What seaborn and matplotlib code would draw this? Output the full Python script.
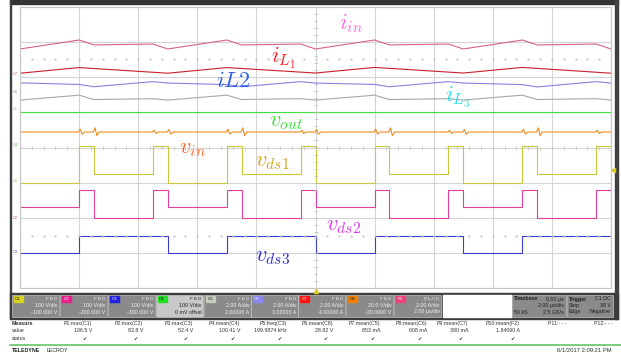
import matplotlib
matplotlib.use("Agg")
import matplotlib.pyplot as plt
import seaborn as sns
import pandas as pd
import numpy as np
from matplotlib.patches import Rectangle

# ---------------- data (time in microseconds, physical units) ----------------
t_tri = [-10, -8, -7.5, -5.5, -5, -3, -2.5, -0.5, 0, 2, 2.5, 4.5, 5, 7, 7.5, 9.5, 10]
i_in = [1.61, 2.12, 1.84, 1.89, 1.61, 2.12, 1.84, 1.89, 1.61, 2.12, 1.84, 1.89, 1.61, 2.12, 1.84, 1.89, 1.61]
i_L2 = [0.68, 0.59, 0.46, 0.75, 0.67, 0.58, 0.46, 0.75, 0.67, 0.59, 0.46, 0.75, 0.67, 0.58, 0.45, 0.75, 0.67]
i_L3 = [0.70, 0.98, 0.73, 0.78, 0.70, 0.98, 0.73, 0.78, 0.70, 0.98, 0.73, 0.78, 0.70, 0.98, 0.73, 0.78, 0.70]
t_il1 = [-10, -8, -5, -3, 0, 2, 5, 7, 10]
i_L1 = [0.23, 0.55, 0.23, 0.55, 0.24, 0.56, 0.24, 0.56, 0.23]
t_out = [-10, 10]
v_out = [100.4, 100.4]
vin_base = 28.8
t_spk = [-8, -7.5, -5.5, -5, -3, -2.5, -0.5, 0, 2, 2.5, 4.5, 5, 7, 7.5, 9.5]
spk_up = [1.6, 2.4, 1.0, 1.4, 1.6, 2.4, 1.0, 1.4, 1.6, 2.4, 1.0, 1.4, 1.6, 2.4, 1.0]
spk_dn = [1.2, 2.0, 0.8, 1.2, 1.2, 2.0, 0.8, 1.2, 1.2, 2.0, 0.8, 1.2, 1.2, 2.0, 0.8]
t_edge = [-10, -8, -7.5, -5.5, -5, -3, -2.5, -0.5, 0, 2, 2.5, 4.5, 5, 7, 7.5, 9.5, 10]
v_ds1 = [0, 104, 23.6, 105, 0, 104, 23.6, 105, 0, 104, 23.6, 105, 0, 104, 23.6, 105, 105]
v_ds2 = [30, 79, -1.5, 79, 30, 79, -1.5, 79, 30, 79, -1.5, 79, 30, 79, -1.5, 79, 79]
t_ds3 = [-10, -8, -5, -3, 0, 2, 5, 7, 10]
v_ds3 = [0, 47, 0, 47, 0, 47, 0, 47, 47]

# channel settings (from the channel boxes)
ch_names = ["C1", "C2", "C3", "C4", "C5", "C6", "C7", "C8", "F2"]
ch_scale = [100, 100, 100, 100, 2, 2, 2, 20, 2]
ch_offset = [-100, -200, -300, 0, 2, 3, 4, -20, 4]
ch_line1 = ["100 V/div", "100 V/div", "100 V/div", "100 V/div", "2.00 A/div", "2.00 A/div",
            "2.00 A/div", "20.0 V/div", "2.00 A/div"]
ch_line2 = ["-100.000 V", "-200.000 V", "-300.000 V", "0 mV offset", "2.00000 A", "3.00000 A",
            "4.00000 A", "-20.0000 V", "2.00 µs/div"]
ch_tag = ["#d6d21e", "#e8208c", "#2222e0", "#22e022", "#c4ccbc", "#8a86f0", "#ff1414", "#f08000", "#f0407c"]

meas_head = ["P1:max(C1)", "P2:max(C2)", "P3:max(C3)", "P4:mean(C4)", "P5:freq(C3)", "P6:mean(C8)",
             "P7:mean(C5)", "P8:mean(C6)", "P9:mean(C7)", "P10:mean(F2)", "P11:- - -", "P12:- - -"]
meas_val = ["106.5 V", "82.8 V", "52.4 V", "100.41 V", "199.9874 kHz", "28.82 V",
            "853 mA", "608 mA", "380 mA", "1.84060 A", "", ""]

# ---------------- style ----------------
sns.set_style("white")
plt.rcParams["font.family"] = ["Liberation Sans", "DejaVu Sans"]
plt.rcParams["mathtext.fontset"] = "cm"

W, H = 621, 355
fig = plt.figure(figsize=(W / 100, H / 100), dpi=100)

bg = fig.add_axes([0, 0, 1, 1])
bg.set_xlim(0, W)
bg.set_ylim(H, 0)
bg.axis("off")
bg.set_zorder(0)

ax = fig.add_axes([20 / W, (H - 288) / H, 591 / W, 281 / H])
ax.set_zorder(1)
ax.set_facecolor("white")

def div(vals, ch):
    k = ch_names.index(ch)
    return [(v + ch_offset[k]) / ch_scale[k] for v in vals]

# assemble vin with switching spikes
t_vin, v_vin = [-10], [vin_base]
for te, u, d in zip(t_spk, spk_up, spk_dn):
    t_vin += [te - 0.02, te + 0.04, te + 0.1, te + 0.18]
    v_vin += [vin_base, vin_base + u, vin_base - d, vin_base]
t_vin.append(10)
v_vin.append(vin_base)

traces = [
    (t_tri, i_in, "F2", "#d8608c", None),
    (t_il1, i_L1, "C7", "#c8202c", None),
    (t_tri, i_L2, "C6", "#8c7fe0", None),
    (t_tri, i_L3, "C5", "#a6a6b0", None),
    (t_out, v_out, "C4", "#3ee03e", None),
    (t_vin, v_vin, "C8", "#f08a1a", None),
    (t_edge, v_ds1, "C1", "#c8c83a", "steps-post"),
    (t_edge, v_ds2, "C2", "#e0409c", "steps-post"),
    (t_ds3, v_ds3, "C3", "#3c3cd0", "steps-post"),
]
for t, v, ch, col, ds in traces:
    df = pd.DataFrame({"t": t, "div": div(v, ch)})
    kw = {"drawstyle": ds} if ds else {}
    sns.lineplot(data=df, x="t", y="div", ax=ax, color=col, linewidth=0.8,
                 estimator=None, sort=False, legend=False, **kw)

ax.set_xlim(-10, 10)
ax.set_ylim(-4, 4)
ax.set_xticks(range(-10, 11, 2))
ax.set_yticks(range(-4, 5))
ax.grid(True, color="#d4d4d4", linewidth=0.8)
ax.tick_params(length=0, labelbottom=False, labelleft=False)
ax.set_xlabel("")
ax.set_ylabel("")
for s in ax.spines.values():
    s.set_color("#c4c4c4")
    s.set_linewidth(0.8)

# graticule minor marks
mx = np.arange(-10, 10.01, 0.4)
ax.plot(mx, np.zeros_like(mx), ls="none", marker="|", ms=2.5, color="#c0c0c0", mew=0.5)
my = np.arange(-4, 4.01, 0.2)
ax.plot(np.zeros_like(my), my, ls="none", marker="_", ms=2.5, color="#c0c0c0", mew=0.5)
for yy in (2.52, -2.52):
    ax.plot(mx, np.full_like(mx, yy), ls="none", marker=".", ms=1.1, color="#c4c4c4")

# labels
lab = [
    (1.20, 3.54, r"$i_{in}$", "#ff66e0"),
    (-1.07, 2.55, r"$i_{L_1}$", "#ff1e1e"),
    (-2.79, 1.89, r"$iL2$", "#2f62e6"),
    (4.82, 1.44, r"$i_{L_3}$", "#22e2ea"),
    (-1.00, 0.75, r"$v_{out}$", "#3ee03e"),
    (-4.18, -0.04, r"$v_{in}$", "#ff6a2a"),
    (-1.47, -0.40, r"$v_{ds1}$", "#d4a41e"),
    (0.96, -2.23, r"$v_{ds2}$", "#e23cf0"),
    (-1.44, -3.09, r"$v_{ds3}$", "#2e2ed8"),
]
for x, y, s, c in lab:
    ax.text(x, y, s, color=c, fontsize=16, ha="center", va="center", zorder=5)

# ---------------- frame & panel (pixel coordinates) ----------------
bg.add_patch(Rectangle((10, 0), 608, 3.5, color="#333333"))
bg.add_patch(Rectangle((9.5, 0), 1.5, 319, color="#404040"))
bg.add_patch(Rectangle((614.5, 0), 3.5, 319, color="#404040"))
bg.add_patch(Rectangle((10, 293), 608, 26, color="#3c3c3c"))
bg.add_patch(Rectangle((443, 294.6), 68, 22.8, color="white"))

# channel reference markers at left
marks = [(74, "C7", "#e05a5a"), (92, "C6", "#8c84e0"), (109, "C5", "#a0a8a0"),
         (145, "C4", "#3cc83c"), (181, "C1", "#d0a030"), (218, "C2", "#e04a9a"), (252, "C3", "#4a4ad0")]
for yy, s, c in marks:
    bg.text(15, yy, s, fontsize=2.8, color=c, ha="center", va="center")

bg.plot([315.5], [290.5], marker="^", ms=3, color="#d8c820", ls="none")
bg.plot([613], [170], marker="<", ms=3, color="#d8c820", ls="none")

fs = 3.8
box_x = [12, 60, 108, 156, 204, 251, 298, 346, 394]
for k, x0 in enumerate(box_x):
    sel = ch_names[k] == "C4"
    bg.add_patch(Rectangle((x0, 295), 47, 22.4, facecolor="#c8c8c8" if sel else "#8a8a8a",
                           edgecolor="#d8d8d8", linewidth=0.4))
    bg.add_patch(Rectangle((x0 + 1.5, 296.3), 9, 5.2, color=ch_tag[k]))
    tc = "#222222" if sel else "#f2f2f2"
    bg.text(x0 + 6, 299, ch_names[k], fontsize=3.2, color="#111111" if k in (0, 3, 4, 7) else "white",
            ha="center", va="center")
    top = "(F1+C7)" if ch_names[k] == "F2" else "F B D"
    bg.text(x0 + 45.5, 299, top, fontsize=3.2, color=tc, ha="right", va="center")
    bg.text(x0 + 45.5, 305.5, ch_line1[k], fontsize=fs, color=tc, ha="right", va="center")
    bg.text(x0 + 45.5, 312, ch_line2[k], fontsize=fs, color=tc, ha="right", va="center")

for x0, w in ((512, 54), (567, 46)):
    bg.add_patch(Rectangle((x0, 295), w, 22.4, facecolor="#8a8a8a", edgecolor="#d8d8d8", linewidth=0.4))
dk = "#1e1e1e"
bg.text(514, 299, "Timebase", fontsize=fs, weight="bold", color=dk, va="center")
bg.text(564, 299, "0.00 µs", fontsize=fs, color=dk, ha="right", va="center")
bg.text(564, 305.5, "2.00 µs/div", fontsize=fs, color=dk, ha="right", va="center")
bg.text(514, 312, "50 kS", fontsize=fs, color=dk, va="center")
bg.text(564, 312, "2.5 GS/s", fontsize=fs, color=dk, ha="right", va="center")
bg.text(569, 299, "Trigger", fontsize=fs, weight="bold", color=dk, va="center")
bg.text(611, 299, "C1 DC", fontsize=fs, color=dk, ha="right", va="center")
bg.text(569, 305.5, "Stop", fontsize=fs, color=dk, va="center")
bg.text(611, 305.5, "39 V", fontsize=fs, color=dk, ha="right", va="center")
bg.text(569, 312, "Edge", fontsize=fs, color=dk, va="center")
bg.text(611, 312, "Negative", fontsize=fs, color=dk, ha="right", va="center")

# measurement table
mc = "#333333"
bg.text(12, 323.5, "Measure", fontsize=fs, weight="bold", color=mc, va="center")
bg.text(12, 331, "value", fontsize=fs, color=mc, va="center")
bg.text(12, 338.5, "status", fontsize=fs, color=mc, va="center")
col_r = [92, 143, 193, 240, 287, 333, 380, 427, 468, 520, 567, 613]
for k, xr in enumerate(col_r):
    bg.text(xr, 323.5, meas_head[k], fontsize=fs, color=mc, ha="right", va="center")
    if meas_val[k]:
        bg.text(xr, 331, meas_val[k], fontsize=fs, color=mc, ha="right", va="center")
        bg.text(xr - 7, 338.5, "✔", fontsize=3.6, color=mc, ha="center", va="center",
                family=["DejaVu Sans"])

bg.plot([10, 621], [345, 345], color="#66c466", lw=1.2)
bg.text(12, 351, "TELEDYNE", fontsize=3.8, weight="bold", color="#222222", va="center")
bg.text(47, 351, "LECROY", fontsize=3.8, color="#222222", va="center")
bg.text(612, 351, "6/1/2017 2:09:21 PM", fontsize=4.2, color="#333333", ha="right", va="center")

fig.savefig("out.png", dpi=100)
